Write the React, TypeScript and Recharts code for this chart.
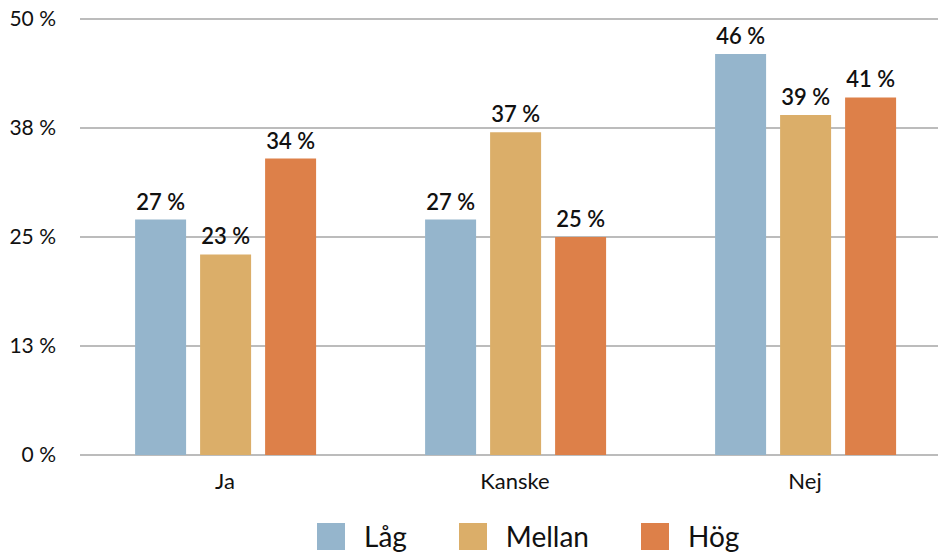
import React from 'react';
import { BarChart, Bar, XAxis, YAxis, CartesianGrid, Legend, LabelList } from 'recharts';

const categories = ['Ja', 'Kanske', 'Nej'];
const lagValues = [27, 27, 46];
const mellanValues = [23, 37, 39];
const hogValues = [34, 25, 41];
const yTicks = [0, 12.5, 25, 37.5, 50];

const SERIES = [
  { key: 'lag', name: 'Låg', color: '#95b5cc' },
  { key: 'mellan', name: 'Mellan', color: '#dbae69' },
  { key: 'hog', name: 'Hög', color: '#dd8049' },
];

const data = categories.map((name, i) => ({
  name,
  lag: lagValues[i],
  mellan: mellanValues[i],
  hog: hogValues[i],
}));

const FONT = 'Lato, "Open Sans", sans-serif';

const LegendContent = () => (
  <div style={{ display: 'flex', alignItems: 'center', fontFamily: FONT, fontSize: 28, color: '#111' }}>
    {SERIES.map((s) => (
      <div key={s.key} style={{ display: 'flex', alignItems: 'center', marginRight: 52 }}>
        <span style={{ width: 28, height: 27, background: s.color, display: 'inline-block', marginRight: 19 }} />
        <span>{s.name}</span>
      </div>
    ))}
  </div>
);

export default function App() {
  return (
    <div style={{ position: 'absolute', left: 0, top: 0, width: 938, height: 554, overflow: 'hidden', background: '#fff' }}>
      <BarChart
        width={950}
        height={554}
        data={data}
        margin={{ top: 19, right: 0, left: 0, bottom: 15 }}
        barCategoryGap="19%"
        barGap={14}
      >
        <CartesianGrid horizontal vertical={false} stroke="#a6a6a6" strokeWidth={1.5} />
        <XAxis
          dataKey="name"
          axisLine={false}
          tickLine={false}
          tickSize={0}
          tickMargin={18}
          height={50}
          tick={{ fontFamily: FONT, fontSize: 22, fill: '#111' }}
        />
        <YAxis
          domain={[0, 50]}
          ticks={yTicks}
          width={80}
          axisLine={false}
          tickLine={false}
          tickSize={0}
          tickMargin={24}
          tickFormatter={(v) => `${Math.round(v)} %`}
          tick={{ fontFamily: FONT, fontSize: 21, fill: '#111' }}
        />
        <Legend
          content={<LegendContent />}
          wrapperStyle={{ position: 'absolute', left: 317, top: 519, width: 'auto' }}
        />
        {SERIES.map((s) => (
          <Bar key={s.key} dataKey={s.key} name={s.name} fill={s.color} isAnimationActive={false}>
            <LabelList
              dataKey={s.key}
              position="top"
              offset={10}
              formatter={(v) => `${v} %`}
              style={{ fontFamily: FONT, fontSize: 22, fontWeight: 600, fill: '#111' }}
            />
          </Bar>
        ))}
      </BarChart>
    </div>
  );
}
